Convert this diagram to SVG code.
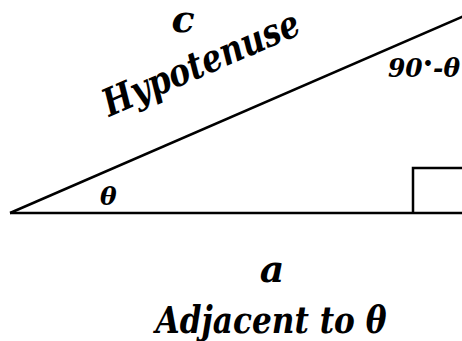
<svg xmlns="http://www.w3.org/2000/svg" width="462" height="341" viewBox="0 0 462 341">
<style>
.ln{stroke:#000;stroke-width:2.5;fill:none}
.t{fill:#000}
</style>
<rect width="462" height="341" fill="#fff"/>
<g id="triangle">
<line class="ln" x1="10" y1="213" x2="462" y2="213"/>
<line class="ln" x1="10" y1="213" x2="464" y2="16"/>
<polyline class="ln" points="413,213 413,168 462,168"/>
</g>
<g id="labels" font-family="DejaVu Serif, serif" font-style="italic" font-weight="bold">
<text class="t" x="183" y="32" font-size="38" text-anchor="middle">c</text>
<text class="t" x="0" y="0" font-size="38" text-anchor="middle" textLength="211" lengthAdjust="spacingAndGlyphs" transform="translate(206,75) rotate(-23.4)">Hypotenuse</text>
<text class="t" x="388" y="77" font-size="26" textLength="72" lengthAdjust="spacingAndGlyphs">90<tspan font-size="17" dy="-8">•</tspan><tspan dy="8">-θ</tspan></text>
<text class="t" x="100" y="205" font-size="25">θ</text>
<text class="t" x="272" y="282" font-size="38" text-anchor="middle">a</text>
<text class="t" x="271" y="333" font-size="38" text-anchor="middle" textLength="231" lengthAdjust="spacingAndGlyphs">Adjacent to θ</text>
</g>
</svg>
